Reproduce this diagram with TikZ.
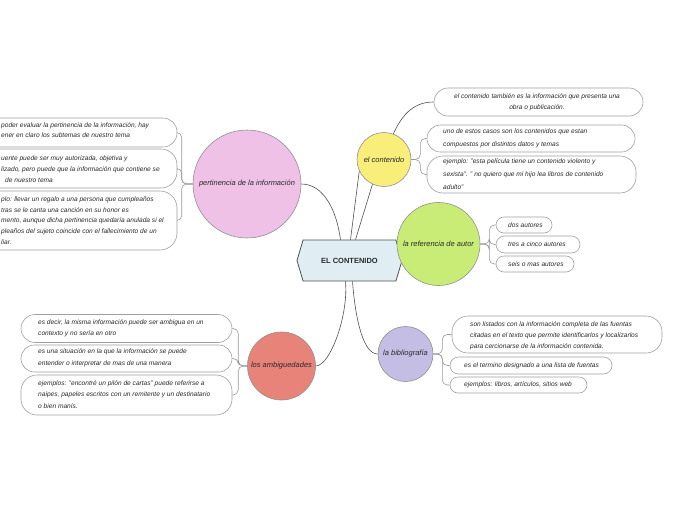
\documentclass[tikz,border=0pt]{standalone}
\usepackage{fontspec}
\setmainfont{Liberation Sans}
\usetikzlibrary{shapes.symbols,backgrounds,calc}
\definecolor{pertc}{HTML}{EFC1E6}
\definecolor{contc}{HTML}{F9EE7A}
\definecolor{refc}{HTML}{C8EC76}
\definecolor{ambc}{HTML}{E8837A}
\definecolor{bibc}{HTML}{C4BEE4}
\definecolor{hexf}{HTML}{E0EEF4}
\definecolor{hexb}{HTML}{505050}
\definecolor{circb}{HTML}{909090}
\definecolor{boxb}{HTML}{A0A0A0}
\definecolor{textc}{HTML}{2A2A2A}
\definecolor{mainl}{HTML}{505050}
\definecolor{childl}{HTML}{9A9A9A}
\tikzset{
  txt/.style={font=\fontsize{6.6}{#1}\selectfont\itshape, text=textc, inner sep=0pt, align=left},
  txt/.default=11.5,
  bubble/.style={circle, draw=circb, line width=0.6pt, inner sep=0pt,
    font=\fontsize{7.5}{9}\selectfont\itshape, text=textc},
  pill/.style={rectangle, draw=boxb, fill=white, line width=0.6pt, inner sep=0pt, rounded corners=#1},
  pill/.default=8pt,
  mainline/.style={draw=mainl, line width=0.6pt},
  childline/.style={draw=childl, line width=0.6pt, rounded corners=5pt},
}
\begin{document}
\begin{tikzpicture}[x=1pt,y=-1pt]
\useasboundingbox (0,0) rectangle (696,520);
\clip (0,0) rectangle (696,520);

% central hexagon
\node[signal, signal to=west and east, signal pointer angle=147, draw=hexb, fill=hexf,
  line width=0.8pt, minimum width=105pt, minimum height=41pt, inner sep=0pt,
  font=\fontsize{7.5}{9}\selectfont\bfseries, text=textc] (cen) at (349.5,260.5) {EL CONTENIDO};

% main topics
\node[bubble, fill=pertc, minimum size=108pt] (pert) at (247,184) {pertinencia de la información};
\node[bubble, fill=contc, minimum size=54pt] (ec) at (384,159.5) {el contenido};
\node[bubble, fill=refc, minimum size=83pt] (ref) at (438.5,244) {la referencia de autor};
\node[bubble, fill=ambc, minimum size=68pt] (amb) at (281.5,366) {los ambiguedades};
\node[bubble, fill=bibc, minimum size=55pt] (bib) at (405.5,354) {la bibliografía};

% el contenido children
\node[pill=14pt, minimum width=209pt, minimum height=28pt] (b1) at (538.5,102) {};
\node[txt=11, align=center] (b1t) at (537,102) {el contenido también es la información que presenta una\\obra o publicación.};
\node[pill=13.5pt, minimum width=208pt, minimum height=27pt] (b2) at (531,138.5) {};
\node[txt=13, anchor=west] (b2t) at (443,138.5) {uno de estos casos son los contenidos que estan\\compuestos por distintos datos y temas};
\node[pill=16pt, minimum width=209pt, minimum height=37pt] (b3) at (531.5,174.5) {};
\node[txt=13, anchor=west] (b3t) at (443,174) {ejemplo: "esta película tiene un contenido violento y\\sexista". " no quiero que mi hijo lea libros de contenido\\adulto"};

% referencia children
\node[pill=8pt, minimum width=56pt, minimum height=16pt] (r1) at (524,225) {};
\node[txt, anchor=west] (r1t) at (508,225) {dos autores};
\node[pill=8.5pt, minimum width=84pt, minimum height=17pt] (r2) at (538,244.5) {};
\node[txt, anchor=west] (r2t) at (508,244.5) {tres a cinco autores};
\node[pill=8pt, minimum width=78pt, minimum height=16pt] (r3) at (535,264) {};
\node[txt, anchor=west] (r3t) at (508,264) {seis o mas autores};

% bibliografia children
\node[pill=16pt, minimum width=210pt, minimum height=37pt] (bb1) at (557,334.5) {};
\node[txt=11, anchor=west] (bb1t) at (470,336) {son listados con la información completa de las fuentas\\citadas en el texto que permite identificarlos y localizarlos\\para cercionarse de la información contenida.};
\node[pill=8.5pt, minimum width=162pt, minimum height=17pt] (bb2) at (531,365.5) {};
\node[txt, anchor=west] (bb2t) at (464,365.5) {es el termino designado a una lista de fuentas};
\node[pill=8pt, minimum width=137pt, minimum height=16pt] (bb3) at (518.5,385) {};
\node[txt, anchor=west] (bb3t) at (464,385) {ejemplos: libros, artículos, sitios web};

% ambiguedades children
\node[pill=14pt, minimum width=211pt, minimum height=28pt] (a1) at (126.5,328.5) {};
\node[txt=11, anchor=west] (a1t) at (38,328.5) {es decir, la misma información puede ser ambigua en un\\contexto y no sería en otro};
\node[pill=13.5pt, minimum width=211pt, minimum height=27pt] (a2) at (126.5,358.5) {};
\node[txt=12, anchor=west] (a2t) at (38,358) {es una situación en la que la información se puede\\entender o interpretar de mas de una manera};
\node[pill=16pt, minimum width=211pt, minimum height=40pt] (a3) at (126.5,395) {};
\node[txt=11.5, anchor=west] (a3t) at (38,394.5) {ejemplos: "encontré un pilón de cartas" puede referirse a\\naipes, papeles escritos con un remitente y un destinatario\\o bien manís.};

% pertinencia children (cut by left edge)
\node[pill=14pt, minimum width=217pt, minimum height=29pt] (p1) at (68.5,132.5) {};
\node[txt=10.5, anchor=west] (p1t) at (1,130) {poder evaluar la pertinencia de la información, hay\\ener en claro los subtemas de nuestro tema};
\node[pill=16pt, minimum width=217pt, minimum height=39pt] (p2) at (68.5,168.5) {};
\node[txt=11, anchor=west] (p2t) at (1,169) {uente puede ser muy autorizada, objetiva y\\lizado, pero puede que la información que contiene se\\\hspace*{4pt}de nuestro tema};
\node[pill=17pt, minimum width=217pt, minimum height=59pt] (p3) at (68.5,220.5) {};
\node[txt=10.75, anchor=west] (p3t) at (1,220.5) {plo: llevar un regalo a una persona que cumpleaños\\tras se le canta una canción en su honor es\\mento, aunque dicha pertinencia quedaría anulada si el\\pleaños del sujeto coincide con el fallecimiento de un\\liar.};

\begin{pgfonlayer}{background}
\fill[white] (0,0) rectangle (696,520);
% main connectors
\draw[mainline] (pert.east) .. controls +(22,0) and +(-4,-30) .. ([xshift=-9pt]cen.north);
\draw[mainline] ([xshift=1pt]cen.north) -- (ec.205);
\draw[mainline] ([xshift=6pt]cen.north) -- (ec.245);
\draw[mainline] (cen.east) -- (ref.west);
\draw[mainline] (amb.east) .. controls +(14,0) and +(3,35) .. ([xshift=-4pt]cen.south);
\draw[mainline] ([xshift=3pt]cen.south) .. controls +(3,40) and +(-14,0) .. (bib.west);
\draw[mainline] (ec.70) .. controls +(10,-22) and +(-18,0) .. (b1.west);
% child brackets
\foreach \c in {b2,b3} \draw[childline] (ec.east) -- ++(9,0) |- (\c.west);
\foreach \c in {r1,r2,r3} \draw[childline] (ref.east) -- ++(9,0) |- (\c.west);
\foreach \c in {bb1,bb2,bb3} \draw[childline] (bib.east) -- ++(9,0) |- (\c.west);
\foreach \c in {a1,a2,a3} \draw[childline] (amb.west) -- ++(-9,0) |- (\c.east);
\foreach \c in {p1,p2,p3} \draw[childline] (pert.west) -- ++(-11,0) |- (\c.east);
\end{pgfonlayer}
\end{tikzpicture}
\end{document}
